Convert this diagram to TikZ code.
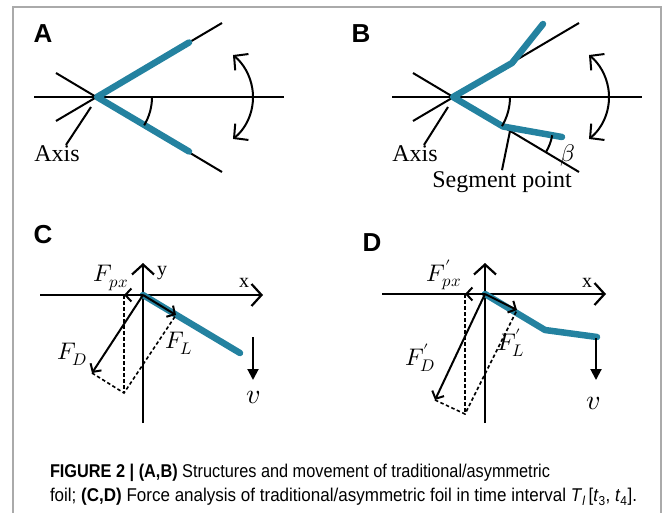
\documentclass[tikz,border=0pt]{standalone}
\usepackage{fontspec}
\usepackage{unicode-math}
\usepackage{tkz-euclide}
\usetikzlibrary{arrows.meta}
\setmainfont{Liberation Serif}
\setmathfont{Latin Modern Math}
\newfontfamily\capsans{Liberation Sans}
\definecolor{foilteal}{RGB}{36,130,160}
\definecolor{framegray}{RGB}{170,170,170}
\tikzset{
  foil/.style={foilteal,line width=6.5pt,line cap=round,line join=round},
  axisarrow/.style={line width=2.2pt,-{Straight Barb[length=10pt,width=22pt]}},
  force/.style={-{Straight Barb[length=6pt,width=13pt]}},
  helper/.style={line width=1.6pt,dash pattern=on 3.5pt off 2.5pt},
  swing/.style={{Straight Barb[length=10pt,width=21pt]}-{Straight Barb[length=10pt,width=21pt]}},
  speed/.style={-{Triangle[length=11pt,width=11pt]}},
  lbl/.style={inner sep=0pt,font=\fontsize{24}{28}\selectfont},
  axlbl/.style={inner sep=0pt,font=\fontsize{20}{24}\selectfont},
  panel/.style={inner sep=0pt,font=\capsans\bfseries\fontsize{26}{30}\selectfont},
  caption line/.style={inner sep=0pt,anchor=base west,font=\capsans\fontsize{18.5}{23}\selectfont}
}
\begin{document}
\begin{tikzpicture}[x=1pt,y=1pt,line width=2pt]
  \useasboundingbox (0,0) rectangle (663,-513);
  \draw[framegray,line width=1.3pt] (13,-513) -- (13,-7) -- (661,-7) -- (661,-513);

  \coordinate (PA) at (97,-97);
  \coordinate (HAl) at (34,-97);
  \coordinate (HAr) at (284,-97);
  \coordinate (UAl) at (56,-73);
  \coordinate (UAr) at (222,-23);
  \coordinate (LAl) at (56,-121);
  \coordinate (LAr) at (222,-172);
  \coordinate (TAu) at (189,-42.5);
  \coordinate (TAd) at (189,-151.5);
  \coordinate (SA) at (199,-97);
  \coordinate (AxA) at (91,-107);
  \node[panel] (labA) at (43,-34) {A};
  \draw (HAl) -- (HAr);
  \draw (LAl) -- (UAr);
  \draw (UAl) -- (LAr);
  \draw[foil] (TAu) -- (PA) -- (TAd);
  \tkzMarkAngle[size=55pt](LAr,PA,HAr)
  \draw[swing] ([shift={(-51:54)}]SA) arc[start angle=-51,end angle=51,radius=54];
  \node[lbl] (axisA) at (57,-154) {Axis};
  \draw (AxA) -- ([xshift=9pt]axisA.north);

  \coordinate (PB) at (453,-97);
  \coordinate (HBl) at (392,-97);
  \coordinate (HBr) at (642,-97);
  \coordinate (UBl) at (413,-73);
  \coordinate (UBr) at (579,-23);
  \coordinate (LBl) at (413,-121);
  \coordinate (LBr) at (579,-172);
  \coordinate (KBu) at (512,-63);
  \coordinate (TBu) at (543,-24);
  \coordinate (SB) at (503,-126.5);
  \coordinate (TBd) at (562,-137);
  \coordinate (SwB) at (555,-97);
  \coordinate (AxB) at (448,-107);
  \coordinate (SgB) at (510,-131);
  \node[panel] (labB) at (361,-34) {B};
  \draw (HBl) -- (HBr);
  \draw (LBl) -- (UBr);
  \draw (UBl) -- (LBr);
  \draw[foil] (TBu) -- (KBu) -- (PB) -- (SB) -- (TBd);
  \tkzMarkAngle[size=57pt](LBr,PB,HBr)
  \tkzMarkAngle[size=50pt](LBr,SB,TBd)
  \draw[swing] ([shift={(-51:54)}]SwB) arc[start angle=-51,end angle=51,radius=54];
  \node[lbl] (axisB) at (415,-154) {Axis};
  \draw (AxB) -- ([xshift=9pt]axisB.north);
  \node[lbl,anchor=base] (segpt) at (502,-187) {Segment point};
  \draw (SgB) -- (segpt.north);
  \node[lbl] (beta) at (568,-155) {$\beta$};

  \coordinate (OC) at (143,-295);
  \coordinate (XCl) at (40,-295);
  \coordinate (XCr) at (263,-295);
  \coordinate (YCb) at (143,-423);
  \coordinate (YCt) at (143,-263);
  \coordinate (TC) at (240,-353);
  \coordinate (FpxC) at (124,-295);
  \coordinate (FLC) at (176,-315);
  \coordinate (FDC) at (92,-373);
  \coordinate (RC) at (124,-393);
  \coordinate (vCa) at (253,-337);
  \coordinate (vCb) at (253,-380);
  \node[panel] (labC) at (43,-235) {C};
  \draw[axisarrow] (XCl) -- (XCr);
  \draw[axisarrow] (YCb) -- (YCt);
  \node[axlbl] (yC) at (162,-273) {y};
  \node[axlbl] (xC) at (244,-283) {x};
  \draw[foil] (OC) -- (TC);
  \draw[force] (OC) -- (FpxC);
  \draw[force] (OC) -- (FLC);
  \draw[force] (OC) -- (FDC);
  \draw[helper] (FpxC) -- (RC);
  \draw[helper] (FDC) -- (RC) -- (FLC);
  \draw[speed] (vCa) -- (vCb);
  \node[lbl] (FpxClbl) at (111,-278) {$F_{px}$};
  \node[lbl] (FLClbl) at (179,-343) {$F_L$};
  \node[lbl] (FDClbl) at (72,-354) {$F_D$};
  \node[lbl,font=\fontsize{28}{32}\selectfont] (vClbl) at (253,-397) {$v$};

  \coordinate (OD) at (485,-294);
  \coordinate (XDl) at (382,-294);
  \coordinate (XDr) at (606,-294);
  \coordinate (YDb) at (485,-423);
  \coordinate (YDt) at (485,-263);
  \coordinate (KD) at (545,-330);
  \coordinate (TD) at (597,-337);
  \coordinate (FpxD) at (465,-294);
  \coordinate (FLD) at (517,-310);
  \coordinate (FDD) at (435,-400);
  \coordinate (RD) at (465,-414);
  \coordinate (vDa) at (596,-338);
  \coordinate (vDb) at (596,-380);
  \node[panel] (labD) at (372,-243) {D};
  \draw[axisarrow] (XDl) -- (XDr);
  \draw[axisarrow] (YDb) -- (YDt);
  \node[axlbl] (xD) at (587,-283) {x};
  \draw[foil] (OD) -- (KD) -- (TD);
  \draw[force] (OD) -- (FpxD);
  \draw[force] (OD) -- (FLD);
  \draw[force] (OD) -- (FDD);
  \draw[helper] (FpxD) -- (RD);
  \draw[helper] (FDD) -- (RD) -- (FLD);
  \draw[speed] (vDa) -- (vDb);
  \node[lbl] (FpxDlbl) at (444,-275) {$F'_{px}$};
  \node[lbl] (FLDlbl) at (511,-343) {$F'_L$};
  \node[lbl] (FDDlbl) at (420,-358) {$F'_D$};
  \node[lbl,font=\fontsize{28}{32}\selectfont] (vDlbl) at (593,-403) {$v$};

  \node[caption line] (capone) at (49,-477) {\resizebox{500pt}{\height}{\textbf{FIGURE 2 | (A,B)} Structures and movement of traditional/asymmetric}};
  \node[caption line] (captwo) at (49,-501) {\resizebox{587pt}{\height}{foil; \textbf{(C,D)} Force analysis of traditional/asymmetric foil in time interval \textit{T}\textsubscript{\textit{l}}\,[\textit{t}\textsubscript{3}, \textit{t}\textsubscript{4}].}};
\end{tikzpicture}
\end{document}
